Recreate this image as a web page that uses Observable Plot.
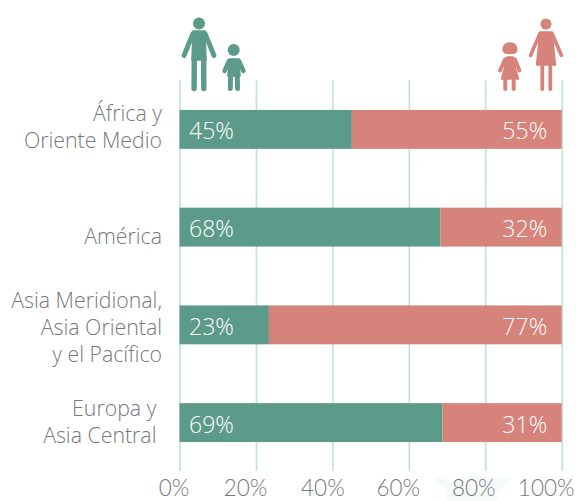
<!DOCTYPE html>
<html><head><meta charset="utf-8">
<script src="https://cdn.jsdelivr.net/npm/d3@7"></script>
<script src="https://cdn.jsdelivr.net/npm/@observablehq/plot@0.6"></script>
<style>
html,body{margin:0;padding:0;background:#fff;overflow:hidden}
#c{width:576px;height:501px}
#c svg{display:block;overflow:visible}
</style></head><body><div id="c"></div>
<script>
const regions = ["Africa", "America", "Asia", "Europa"];
const regionLines = [["África y","Oriente Medio"],["América"],["Asia Meridional,","Asia Oriental","y el Pacífico"],["Europa y\u00a0","Asia Central\u00a0"]];
const boys = [45, 68, 23, 69];
const girls = [55, 32, 77, 31];
const boyBarEnd = [45.1, 68.3, 23.4, 68.8];
const ticks = [0, 20, 40, 60, 80, 100];
const tickShift = [-6, -11, -10, -11, -12, -16];
const labelShift = [-4, 8, 1, -2];
const green = "#5c9a89", red = "#d5837b", grid = "#bfe3d9", gray = "#76797b";
const font = "'Open Sans', sans-serif";

const rows = regions.map((r, i) => ({r, end: boyBarEnd[i], b: boys[i], g: girls[i], label: regionLines[i].join("\n"), shift: labelShift[i]}));

function watermark() {
  return d3.create("svg:path")
    .attr("d", "M433,476 L452,481 L470,474 L490,478 L512,476 L505,486 L496,492 L500,501 L445,501 L448,490 L438,484 Z")
    .attr("fill", "#f6fbf9").node();
}

function icons() {
  const g = d3.create("svg:g");
  const group = color => g.append("g").attr("fill", color).attr("stroke", color).attr("stroke-width", 0).attr("stroke-linecap", "round").attr("stroke-linejoin", "round");
  const head = (s, cx, cy, r) => s.append("circle").attr("cx", cx).attr("cy", cy).attr("r", r);
  const limb = (s, x1, y1, x2, y2, w) => s.append("line").attr("x1", x1).attr("y1", y1).attr("x2", x2).attr("y2", y2).attr("stroke-width", w);
  const shape = (s, d) => s.append("path").attr("d", d).attr("stroke-width", 1.5);

  const m = group(green);
  head(m, 199, 23.5, 6);
  shape(m, "M193,31 L205,31 L206,60 L192,60 Z");
  limb(m, 193, 33.5, 184, 55.5, 4.8); limb(m, 205, 33.5, 214, 55.5, 4.8);
  limb(m, 194.3, 58, 194.1, 88.5, 5.4); limb(m, 203.7, 58, 203.8, 88.5, 5.4);

  const k = group(green);
  head(k, 233.7, 50, 6);
  shape(k, "M229,59 L239,59 L240,76 L228,76 Z");
  limb(k, 229, 61, 224.5, 71, 4.4); limb(k, 239, 61, 243.5, 71, 4.4);
  limb(k, 230.5, 75, 230.3, 88.5, 5); limb(k, 237.2, 75, 237.5, 88.5, 5);

  const w = group(red);
  head(w, 546, 24, 5.5);
  shape(w, "M540,32 L552,32 L555.5,65 L536.5,65 Z");
  limb(w, 540, 33.5, 530.5, 55.5, 3.6); limb(w, 552, 33.5, 561.5, 55.5, 3.6);
  limb(w, 542.3, 65, 542.3, 89, 3.8); limb(w, 550.3, 65, 550.3, 89, 3.8);

  const f = group(red);
  shape(f, "M503.2,50 Q503.2,43 510,43 Q516.8,43 516.8,50 Q516.8,53.5 510,53.5 Q503.2,53.5 503.2,50 Z");
  shape(f, "M507,57 L513,57 Q516,59 515.5,68 L518.5,79 L501.5,79 L504.5,68 Q504,59 507,57 Z");
  limb(f, 505, 59.5, 500, 70.5, 3.8); limb(f, 515, 59.5, 519.5, 70.5, 3.8);
  limb(f, 505.3, 79, 505.3, 89, 4); limb(f, 513.7, 79, 513.7, 89, 4);
  return g.node();
}

const plot = Plot.plot({
  width: 576, height: 501,
  marginTop: 80, marginBottom: 30, marginLeft: 180, marginRight: 14,
  style: {fontFamily: font, background: "transparent"},
  x: {domain: [0, 100], range: [179.5, 561.7], axis: null},
  y: {domain: regions, range: [80.5, 471.5], paddingInner: 0.602, paddingOuter: 0.301, round: false, axis: null},
  marks: [
    watermark,
    Plot.ruleX(ticks, {x: d => d, stroke: grid, strokeWidth: 1.6}),
    Plot.barX(rows, {x1: 0, x2: "end", y: "r", fill: green}),
    Plot.barX(rows, {x1: "end", x2: 100, y: "r", fill: red}),
    Plot.text(rows, {x: 0, y: "r", dy: 2, text: d => d.b + "%", fill: "#fff", textAnchor: "start", dx: 9, fontSize: 23, fontWeight: 300}),
    Plot.text(rows, {x: 100, y: "r", dy: 2, text: d => d.g + "%", fill: "#fff", textAnchor: "end", dx: -15, fontSize: 23, fontWeight: 300}),
    ...rows.map(row => Plot.text([row], {x: 0, y: "r", text: "label", fill: gray, textAnchor: "end", dx: -18, dy: row.shift, fontSize: 21.3, fontWeight: 300, lineHeight: 1.27})),
    ...ticks.map((t, i) => Plot.axisX([t], {anchor: "bottom", tickSize: 0, tickPadding: 9, tickFormat: d => d + "%", dx: tickShift[i], fill: gray, fontSize: 22.5, fontFamily: "Lato, sans-serif", fontWeight: 300, label: null})),
    icons
  ]
});
document.getElementById("c").appendChild(plot);
</script></body></html>
